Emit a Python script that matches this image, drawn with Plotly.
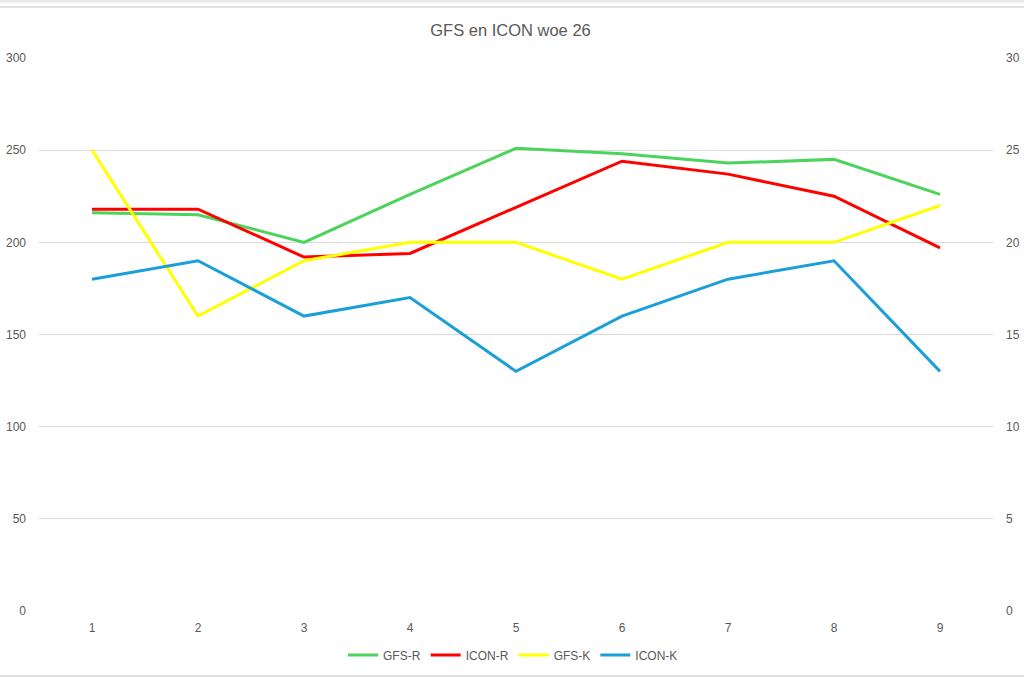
import plotly.graph_objects as go

categories = [1, 2, 3, 4, 5, 6, 7, 8, 9]
gfs_r = [216, 215, 200, 226, 251, 248, 243, 245, 226]
icon_r = [218, 218, 192, 194, 219, 244, 237, 225, 197]
gfs_k = [25, 16, 19, 20, 20, 18, 20, 20, 22]
icon_k = [18, 19, 16, 17, 13, 16, 18, 19, 13]

left_ticks = [0, 50, 100, 150, 200, 250, 300]
right_ticks = [0, 5, 10, 15, 20, 25, 30]

font_family = "Liberation Sans, Arial, sans-serif"
gray = "#595959"
grid = "#d9d9d9"

fig = go.Figure()
fig.add_trace(go.Scatter(x=categories, y=gfs_r, name="GFS-R", mode="lines",
                         line=dict(color="#4cd35b", width=3)))
fig.add_trace(go.Scatter(x=categories, y=icon_r, name="ICON-R", mode="lines",
                         line=dict(color="#ff0000", width=3)))
fig.add_trace(go.Scatter(x=categories, y=gfs_k, name="GFS-K", mode="lines",
                         line=dict(color="#ffff00", width=3), yaxis="y2"))
fig.add_trace(go.Scatter(x=categories, y=icon_k, name="ICON-K", mode="lines",
                         line=dict(color="#1b9fd8", width=3), yaxis="y2"))

W, H = 1024, 678
L, R, T, B = 39, 993, 58, 611
pw, ph = R - L, B - T

def px(x):
    return (x - L) / pw

def py(y):
    return (B - y) / ph

shapes = [
    dict(type="rect", xref="paper", yref="paper", x0=px(0), x1=px(W), y0=py(2.5), y1=py(0),
         fillcolor="#e8e8e8", line=dict(width=0), layer="below"),
    dict(type="line", xref="paper", yref="paper", x0=px(0), x1=px(W), y0=py(7), y1=py(7),
         line=dict(color="#e0e0e0", width=2)),
    dict(type="line", xref="paper", yref="paper", x0=px(0), x1=px(W), y0=py(676), y1=py(676),
         line=dict(color="#e0e0e0", width=2)),
]

fig.update_layout(
    width=W, height=H,
    margin=dict(l=L, r=W - R, t=T, b=H - B, pad=0, autoexpand=False),
    paper_bgcolor="white", plot_bgcolor="white",
    font=dict(family=font_family, color=gray, size=12),
    title=dict(text="GFS en ICON woe 26", x=510.5 / W, xanchor="center", xref="container",
               y=1 - 30 / H, yanchor="middle", yref="container",
               font=dict(size=16.5, color=gray, family=font_family)),
    showlegend=True,
    legend=dict(orientation="h", x=px(513), xanchor="center", y=py(655), yanchor="middle",
                font=dict(size=12, color=gray), itemwidth=30, tracegroupgap=0,
                bgcolor="rgba(0,0,0,0)"),
    xaxis=dict(tickmode="array", tickvals=categories, ticktext=[str(c) for c in categories],
               range=[0.5, 9.5], showgrid=False, zeroline=False, showline=False, automargin=False,
               ticks="", ticklabelstandoff=8, tickfont=dict(size=12, color=gray)),
    yaxis=dict(range=[0, 300], tickvals=left_ticks, showgrid=True, gridcolor=grid, gridwidth=1,
               zeroline=False, showline=False, ticks="", ticklabelstandoff=12, automargin=False,
               tickfont=dict(size=12, color=gray)),
    yaxis2=dict(range=[0, 30], tickvals=right_ticks, overlaying="y", side="right",
                showgrid=False, zeroline=False, showline=False, ticks="", ticklabelstandoff=12,
                automargin=False, tickfont=dict(size=12, color=gray)),
    shapes=shapes,
)

fig.write_html("out.html", config={"displayModeBar": False},
               post_script="document.body.style.margin='0';document.body.style.overflow='hidden';")
